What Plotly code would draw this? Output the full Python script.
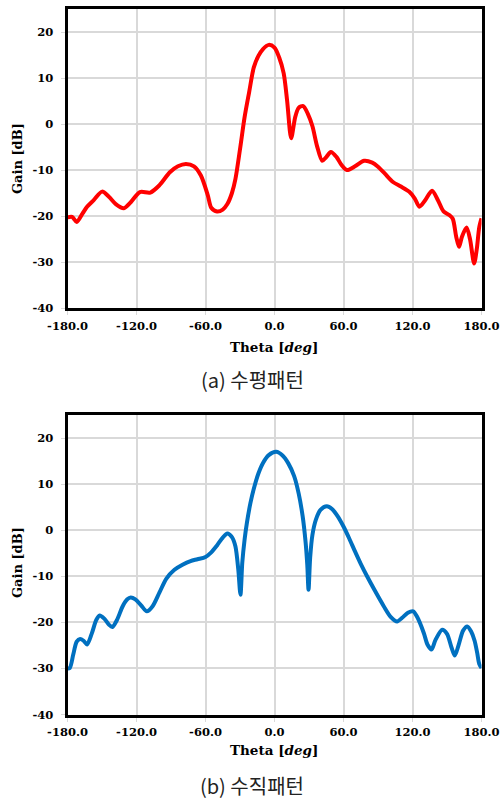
import plotly.graph_objects as go

# Horizontal-plane pattern (a): angle [deg] and gain [dB]
theta_h = [-180, -176, -172, -167, -163, -157, -150, -144, -138, -131, -125, -117,
           -108, -100, -91, -84, -77, -70, -64, -58, -55, -50, -45, -41, -37, -34,
           -30, -26, -22, -18, -14, -10, -5, 0, 4, 8, 11, 14.5, 18, 21, 25, 29, 33,
           37, 41.5, 45, 49, 54, 58, 63, 70, 78, 85, 90, 96, 103, 110, 117, 122,
           126, 131, 137, 142, 147, 152, 155, 158, 160.5, 163, 167, 170, 173.6,
           176, 178, 180]
gain_h = [-20.3, -20.2, -21.3, -19.5, -18.0, -16.5, -14.7, -15.8, -17.4, -18.3, -17.0,
          -14.8, -14.9, -13.3, -10.5, -9.2, -8.7, -9.2, -11.2, -15.5, -18.2, -19.0,
          -18.6, -17.4, -15.0, -12.0, -5.5, 1.5, 7.0, 12.3, 14.8, 16.3, 17.2, 16.6,
          14.5, 11.0, 5.0, -3.1, 1.5, 3.5, 3.9, 2.2, -0.5, -4.8, -8.0, -7.2, -6.1,
          -7.2, -8.8, -10.0, -9.2, -8.0, -8.4, -9.3, -10.8, -12.6, -13.6, -14.7,
          -16.2, -18.0, -16.6, -14.5, -16.5, -19.0, -19.8, -20.6, -24.5, -26.7,
          -24.5, -22.5, -25.0, -30.3, -27.0, -22.5, -20.5]

# Vertical-plane pattern (b)
theta_v = [-180, -178, -175, -172, -169, -166, -163, -159, -155, -152, -148, -144,
           -141, -137, -132, -128, -125, -121, -116, -111, -106, -100, -94, -87,
           -80, -73, -67, -60, -55, -50, -45, -41, -37, -34, -31.5, -29.6, -28,
           -26, -24, -21, -18, -14, -10, -5, 1.5, 7, 12, 17, 21, 24.5, 27, 28.5,
           29.6, 31, 33, 36, 40, 45.5, 50, 55, 60, 65, 70, 75, 80.5, 87, 95, 101,
           106.6, 111, 116, 120.6, 124, 129.8, 133, 136.5, 140, 145.8, 150, 154,
           156.8, 160, 164, 167.6, 171, 174, 176.3, 178, 180]
gain_v = [-30.0, -29.9, -27.0, -24.2, -23.6, -24.0, -24.8, -22.5, -19.5, -18.5, -19.2,
          -20.5, -21.0, -19.5, -16.5, -15.0, -14.6, -15.0, -16.3, -17.6, -16.5,
          -13.5, -10.5, -8.6, -7.5, -6.7, -6.3, -5.8, -4.8, -3.3, -1.6, -0.7, -1.5,
          -3.5, -8.5, -14.0, -7.0, -2.0, 1.6, 5.8, 9.0, 12.3, 14.6, 16.3, 17.0,
          16.2, 14.5, 11.8, 8.0, 3.0, -2.5, -7.5, -12.9, -6.0, -1.0, 2.3, 4.4, 5.2,
          4.6, 3.0, 0.8, -1.8, -4.6, -7.3, -10.0, -13.0, -16.5, -18.8, -19.8,
          -19.0, -17.9, -17.6, -18.8, -22.3, -24.8, -25.9, -23.8, -21.6, -22.5,
          -25.5, -27.2, -25.0, -21.8, -20.9, -22.0, -24.0, -26.7, -29.0, -29.9]

x_ticks = [-180, -120, -60, 0, 60, 120, 180]
x_tick_text = ["-180.0", "-120.0", "-60.0", "0.0", "60.0", "120.0", "180.0"]
y_ticks = [-40, -30, -20, -10, 0, 10, 20]
y_tick_text = ["-40", "-30", "-20", "-10", "0", "10", "20"]
captions = ["(a) 수평패턴", "(b) 수직패턴"]

W, H = 500, 800
tick_font = dict(family="DejaVu Serif", size=11.5, color="black", weight="bold")
title_font = dict(family="DejaVu Serif", size=13, color="black")
cap_font = dict(family="Noto Sans CJK KR", size=20, color="#222222")

fig = go.Figure()
fig.add_trace(go.Scatter(x=theta_h, y=gain_h, mode="lines", xaxis="x", yaxis="y",
                         line=dict(color="#ff0000", width=4, shape="spline", smoothing=0.8),
                         showlegend=False))
fig.add_trace(go.Scatter(x=theta_v, y=gain_v, mode="lines", xaxis="x2", yaxis="y2",
                         line=dict(color="#0070c0", width=4, shape="spline", smoothing=0.8),
                         showlegend=False))


def xax(domain, anchor):
    return dict(domain=domain, anchor=anchor, range=[-180, 180], tickvals=x_ticks,
                ticktext=x_tick_text, automargin=False,
                showgrid=True, gridcolor="#d9d9d9", gridwidth=1.5,
                zeroline=False, showline=True, linecolor="black", linewidth=3,
                mirror=True, ticks="outside", ticklen=4, tickcolor="#d9d9d9",
                ticklabelstandoff=1, tickfont=tick_font)


def yax(domain, anchor):
    return dict(domain=domain, anchor=anchor, range=[-40, 25], tickvals=y_ticks,
                ticktext=y_tick_text, automargin=False,
                showgrid=True, gridcolor="#d9d9d9", gridwidth=1.5, zeroline=False,
                showline=True, linecolor="black", linewidth=3, mirror=True,
                ticks="outside", ticklen=4, tickcolor="#d9d9d9",
                ticklabelstandoff=5, tickfont=tick_font)


def py(px):
    return 1 - px / H


fig.update_layout(
    width=W, height=H, margin=dict(l=0, r=0, t=0, b=0, autoexpand=False),
    paper_bgcolor="white", plot_bgcolor="white",
    xaxis=xax([67.5 / W, 481.5 / W], "y"),
    yaxis=yax([py(308), py(9)], "x"),
    xaxis2=xax([67.5 / W, 481.5 / W], "y2"),
    yaxis2=yax([py(714.5), py(415)], "x2"),
)

# Axis titles and panel captions: (y-title centre, x-title centre, caption centre) in px
layout_rows = [(159, 347, 379, captions[0]), (563, 750, 785, captions[1])]
annotations = []
for ytitle_px, xtitle_px, cap_px, cap in layout_rows:
    annotations.append(dict(text="<b>Gain [dB]</b>", textangle=-90, x=17 / W, y=py(ytitle_px),
                            xref="paper", yref="paper", showarrow=False, font=title_font,
                            xanchor="center", yanchor="middle"))
    annotations.append(dict(text="<b>Theta [<i>deg</i>]</b>", x=274 / W, y=py(xtitle_px),
                            xref="paper", yref="paper", showarrow=False,
                            font=dict(family="DejaVu Serif", size=13.5, color="black"),
                            xanchor="center", yanchor="middle"))
    annotations.append(dict(text=cap, x=252 / W, y=py(cap_px), xref="paper", yref="paper",
                            showarrow=False, font=cap_font, xanchor="center",
                            yanchor="middle"))
fig.update_layout(annotations=annotations)

fig.write_html("out.html")
